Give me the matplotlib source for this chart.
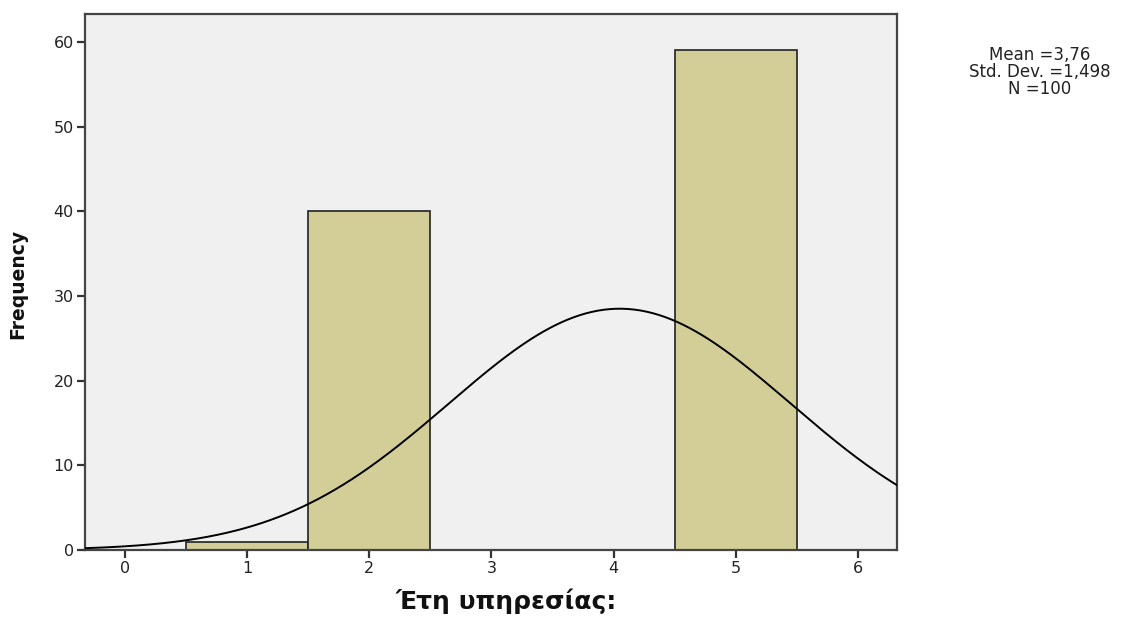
import numpy as np
import matplotlib
matplotlib.use("Agg")
import matplotlib.pyplot as plt

plt.rcParams['font.family'] = ['DejaVu Sans']

# Data
bar_values = [1, 2, 5]
bar_counts = [1, 40, 59]
x_ticks = [0, 1, 2, 3, 4, 5, 6]
y_ticks = [0, 10, 20, 30, 40, 50, 60]
n_total = 100
curve_mean = 4.05
curve_sd = 1.40
stats_text = "Mean =3,76\nStd. Dev. =1,498\nN =100"
x_label = "Έτη υπηρεσίας:"
y_label = "Frequency"

W, H = 1123, 623
fig = plt.figure(figsize=(W / 100, H / 100), dpi=100)
ax = fig.add_axes([85 / W, 1 - 550 / H, (897 - 85) / W, (550 - 14) / H])
ax.set_facecolor('#f0f0f0')

ax.bar(bar_values, bar_counts, width=1.0, color='#d3ce98', edgecolor='#222222',
       linewidth=1.2, zorder=2)

xs = np.linspace(-0.327, 6.32, 400)
ys = n_total * 1.0 / (curve_sd * np.sqrt(2 * np.pi)) * np.exp(-0.5 * ((xs - curve_mean) / curve_sd) ** 2)
ax.plot(xs, ys, color='black', linewidth=1.4, zorder=3)

ax.set_xlim(-0.327, 6.32)
ax.set_ylim(0, 63.3)
ax.set_xticks(x_ticks)
ax.set_yticks(y_ticks)
ax.tick_params(axis='both', direction='out', length=6, width=1.6, color='#333333',
               labelsize=11.5, labelcolor='#222222', pad=2)
for s in ax.spines.values():
    s.set_color('#444444')
    s.set_linewidth(1.6)

fig.text(506 / W, 1 - 601 / H, x_label, ha='center', va='center',
         fontsize=18, fontweight='bold', color='#111111')
fig.text(18 / W, 1 - 284 / H, y_label, ha='center', va='center', rotation=90,
         fontsize=13.5, fontweight='bold', color='#111111')

fig.text(1040 / W, 1 - 72 / H, stats_text, ha='center', va='center',
         fontsize=12, linespacing=0.9, color='#222222')

fig.savefig('out.png', dpi=100)
